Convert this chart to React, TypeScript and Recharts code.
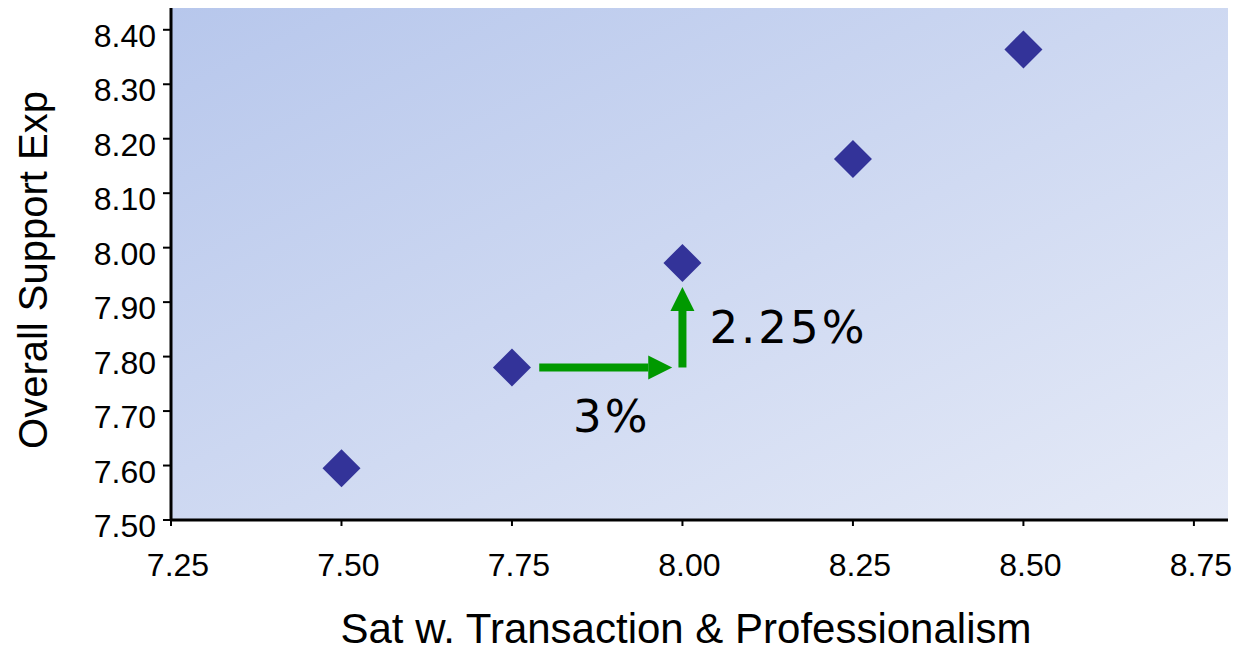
import React from 'react';
import { ScatterChart, Scatter, XAxis, YAxis, CartesianGrid, ReferenceLine } from 'recharts';

const xValues = [7.5, 7.75, 8.0, 8.25, 8.5];
const yValues = [7.595, 7.78, 7.972, 8.163, 8.364];
const xTicks = [7.25, 7.5, 7.75, 8.0, 8.25, 8.5, 8.75];
const yTicks = [7.5, 7.6, 7.7, 7.8, 7.9, 8.0, 8.1, 8.2, 8.3, 8.4];

// arrow annotations (data coordinates) + their labels
const arrowH = [{ x: 7.79, y: 7.78 }, { x: 7.985, y: 7.78 }];
const arrowV = [{ x: 8.0, y: 7.78 }, { x: 8.0, y: 7.928 }];
const arrowLabels = ['3%', '2.25%'];

const data = xValues.map((x, i) => ({ x, y: yValues[i] }));

const DIAMOND = '#333399';
const GREEN = '#009900';

const Diamond = (props: any) => {
  const { cx, cy } = props;
  const r = 19;
  return <polygon points={`${cx},${cy - r} ${cx + r},${cy} ${cx},${cy + r} ${cx - r},${cy}`} fill={DIAMOND} />;
};

const makeArrow = (label: string, labelPos: 'below' | 'right') => (props: any) => {
  const { x1, y1, x2, y2 } = props;
  const len = Math.hypot(x2 - x1, y2 - y1) || 1;
  const ux = (x2 - x1) / len;
  const uy = (y2 - y1) / len;
  const head = 24;
  const half = 12;
  const bx = x2 - ux * head;
  const by = y2 - uy * head;
  const px = -uy;
  const py = ux;
  const mx = (x1 + x2) / 2;
  const my = (y1 + y2) / 2;
  return (
    <g>
      <line x1={x1} y1={y1} x2={bx} y2={by} stroke={GREEN} strokeWidth={8} />
      <polygon
        points={`${x2},${y2} ${bx + px * half},${by + py * half} ${bx - px * half},${by - py * half}`}
        fill={GREEN}
      />
      {labelPos === 'below' ? (
        <text x={mx + 6} y={my + 65} textAnchor="middle" fontFamily="DejaVu Sans" fontSize={45} letterSpacing={3} fill="#000">
          {label}
        </text>
      ) : (
        <text x={mx + 27} y={my + 16} textAnchor="start" fontFamily="DejaVu Sans" fontSize={45} letterSpacing={3} fill="#000">
          {label}
        </text>
      )}
    </g>
  );
};

const XTick = ({ x, y, payload }: any) => (
  <text x={x + 7} y={y} dy={48} textAnchor="middle" fontSize={32} fill="#000" fontFamily="Liberation Sans">
    {Number(payload.value).toFixed(2)}
  </text>
);

const YTick = ({ y, payload }: any) => (
  <text x={156} y={y} dy={17} textAnchor="end" fontSize={32} fill="#000" fontFamily="Liberation Sans">
    {Number(payload.value).toFixed(2)}
  </text>
);

export default function App() {
  return (
    <div style={{ position: 'absolute', left: 0, top: 0, background: '#fff' }}>
      <ScatterChart width={1241} height={647} margin={{ top: 8, right: 13, bottom: 0, left: 0 }}>
        <defs>
          <linearGradient id="plotBg" x1="0" y1="0" x2="1" y2="1">
            <stop offset="0%" stopColor="#b7c7ec" />
            <stop offset="100%" stopColor="#e5eaf7" />
          </linearGradient>
        </defs>
        <CartesianGrid horizontal={false} vertical={false} fill="url(#plotBg)" fillOpacity={1} />
        <XAxis
          type="number"
          dataKey="x"
          domain={[7.25, 8.8]}
          ticks={xTicks}
          height={127}
          tick={<XTick />}
          tickSize={6}
          axisLine={{ stroke: '#000', strokeWidth: 3 }}
          tickLine={{ stroke: '#000', strokeWidth: 2 }}
          label={{
            content: ({ viewBox }: any) => (
              <text x={686} y={viewBox.y + 123} textAnchor="middle" fontSize={42} fill="#000" fontFamily="Liberation Sans">
                Sat w. Transaction &amp; Professionalism
              </text>
            ),
          }}
        />
        <YAxis
          type="number"
          dataKey="y"
          domain={[7.5, 8.44]}
          ticks={yTicks}
          width={171}
          tick={<YTick />}
          tickSize={8}
          axisLine={{ stroke: '#000', strokeWidth: 3 }}
          tickLine={{ stroke: '#000', strokeWidth: 2 }}
          label={{
            content: ({ viewBox }: any) => {
              const cx = 47;
              const cy = viewBox.y + viewBox.height / 2 + 6;
              return (
                <text x={cx} y={cy} transform={`rotate(-90, ${cx}, ${cy})`} textAnchor="middle" fontSize={40} fill="#000" fontFamily="Liberation Sans">
                  Overall Support Exp
                </text>
              );
            },
          }}
        />
        <ReferenceLine
          segment={arrowH}
          ifOverflow="visible"
          shape={makeArrow(arrowLabels[0], 'below')}
        />
        <ReferenceLine
          segment={arrowV}
          ifOverflow="visible"
          shape={makeArrow(arrowLabels[1], 'right')}
        />
        <Scatter data={data} shape={<Diamond />} isAnimationActive={false} />
      </ScatterChart>
    </div>
  );
}
